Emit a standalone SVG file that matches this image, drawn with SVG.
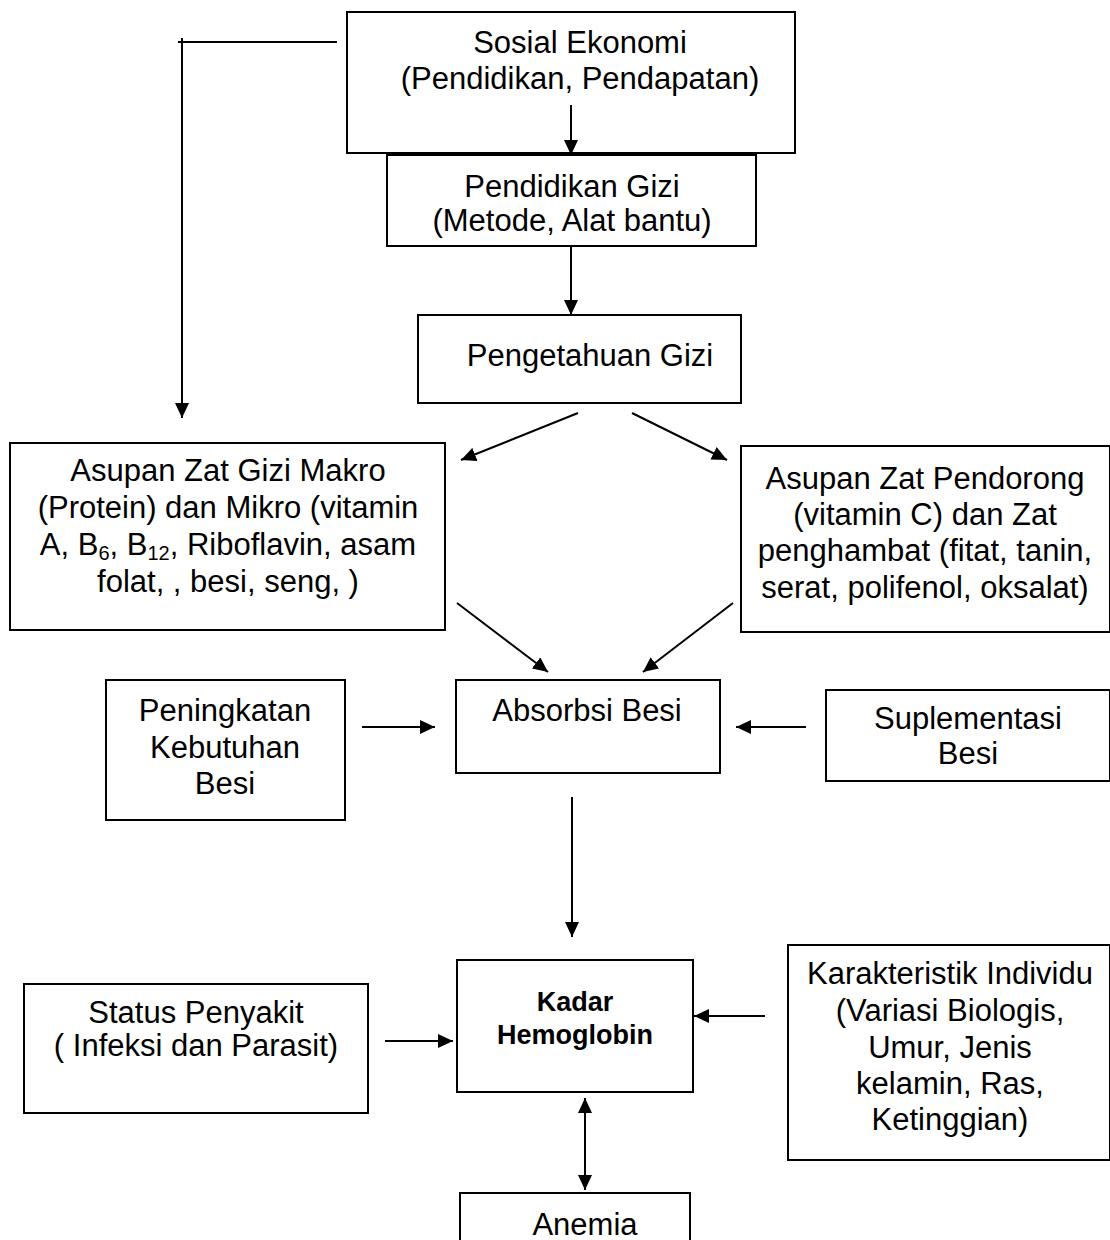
<svg xmlns="http://www.w3.org/2000/svg" width="1110" height="1240" viewBox="0 0 1110 1240">
<style>
.box{fill:#fff;stroke:#000;stroke-width:2}
.t{font-family:"Liberation Sans",Arial,sans-serif;font-size:31px;fill:#000;text-anchor:middle}
.b{font-family:"Liberation Sans",Arial,sans-serif;font-size:27px;font-weight:bold;fill:#000;text-anchor:middle}
.c{stroke:#000;stroke-width:2;fill:none}
.a{marker-end:url(#ah)}
</style>
<defs>
<marker id="ah" markerUnits="userSpaceOnUse" markerWidth="16" markerHeight="14" refX="15" refY="7" orient="auto-start-reverse">
<path d="M0,0 L15,7 L0,14 z" fill="#000"/>
</marker>
</defs>
<rect width="1110" height="1240" fill="#fff"/>
<g id="sosial"><rect class="box" x="347" y="12" width="448" height="141"/>
<text class="t" x="580" y="53">Sosial Ekonomi</text>
<text class="t" x="580" y="89">(Pendidikan, Pendapatan)</text></g>
<g id="pendidikan"><rect class="box" x="387" y="155" width="369" height="91"/>
<text class="t" x="572" y="197">Pendidikan Gizi</text>
<text class="t" x="572" y="231">(Metode, Alat bantu)</text></g>
<g id="pengetahuan"><rect class="box" x="418" y="315" width="323" height="88"/>
<text class="t" x="590" y="366">Pengetahuan Gizi</text></g>
<g id="makro"><rect class="box" x="10" y="443" width="435" height="187"/>
<text class="t" x="228" y="481">Asupan Zat Gizi Makro</text>
<text class="t" x="228" y="518">(Protein) dan Mikro (vitamin</text>
<text class="t" x="228" y="555">A, B<tspan font-size="20" dy="5">6</tspan><tspan dy="-5">, B</tspan><tspan font-size="20" dy="5">12</tspan><tspan dy="-5">, Riboflavin, asam</tspan></text>
<text class="t" x="228" y="592">folat, , besi, seng, )</text></g>
<g id="pendorong"><rect class="box" x="741" y="446" width="369" height="186"/>
<text class="t" x="925" y="489">Asupan Zat Pendorong</text>
<text class="t" x="925" y="525">(vitamin C) dan Zat</text>
<text class="t" x="925" y="561">penghambat (fitat, tanin,</text>
<text class="t" x="925" y="598">serat, polifenol, oksalat)</text></g>
<g id="absorbsi"><rect class="box" x="456" y="680" width="264" height="93"/>
<text class="t" x="587" y="721">Absorbsi Besi</text></g>
<g id="peningkatan"><rect class="box" x="106" y="680" width="239" height="140"/>
<text class="t" x="225" y="721">Peningkatan</text>
<text class="t" x="225" y="758">Kebutuhan</text>
<text class="t" x="225" y="794">Besi</text></g>
<g id="suplementasi"><rect class="box" x="826" y="690" width="284" height="91"/>
<text class="t" x="968" y="729">Suplementasi</text>
<text class="t" x="968" y="764">Besi</text></g>
<g id="kadar"><rect class="box" x="457" y="960" width="236" height="132"/>
<text class="b" x="575" y="1011">Kadar</text>
<text class="b" x="575" y="1044">Hemoglobin</text></g>
<g id="status"><rect class="box" x="24" y="984" width="344" height="129"/>
<text class="t" x="196" y="1023">Status Penyakit</text>
<text class="t" x="196" y="1056">( Infeksi dan Parasit)</text></g>
<g id="karakteristik"><rect class="box" x="788" y="945" width="322" height="215"/>
<text class="t" x="950" y="984">Karakteristik Individu</text>
<text class="t" x="950" y="1021">(Variasi Biologis,</text>
<text class="t" x="950" y="1058">Umur, Jenis</text>
<text class="t" x="950" y="1094">kelamin, Ras,</text>
<text class="t" x="950" y="1130">Ketinggian)</text></g>
<g id="anemia"><rect class="box" x="460" y="1193" width="230" height="60"/>
<text class="t" x="585" y="1235">Anemia</text></g>
<g id="connectors">
<path class="c" d="M337,42 H178"/>
<path class="c a" d="M182,38 V418"/>
<path class="c a" d="M571,105 V155"/>
<path class="c a" d="M571,247 V315"/>
<path class="c a" d="M578,413 L461,460"/>
<path class="c a" d="M632,413 L727,460"/>
<path class="c a" d="M457,603 L548,672"/>
<path class="c a" d="M733,603 L643,672"/>
<path class="c a" d="M362,727 H435"/>
<path class="c a" d="M806,727 H736"/>
<path class="c a" d="M572,797 V937"/>
<path class="c a" d="M385,1041 H453"/>
<path class="c a" d="M765,1016 H694"/>
<path class="c a" d="M585,1098 V1190" style="marker-start:url(#ah)"/>
</g>
</svg>
